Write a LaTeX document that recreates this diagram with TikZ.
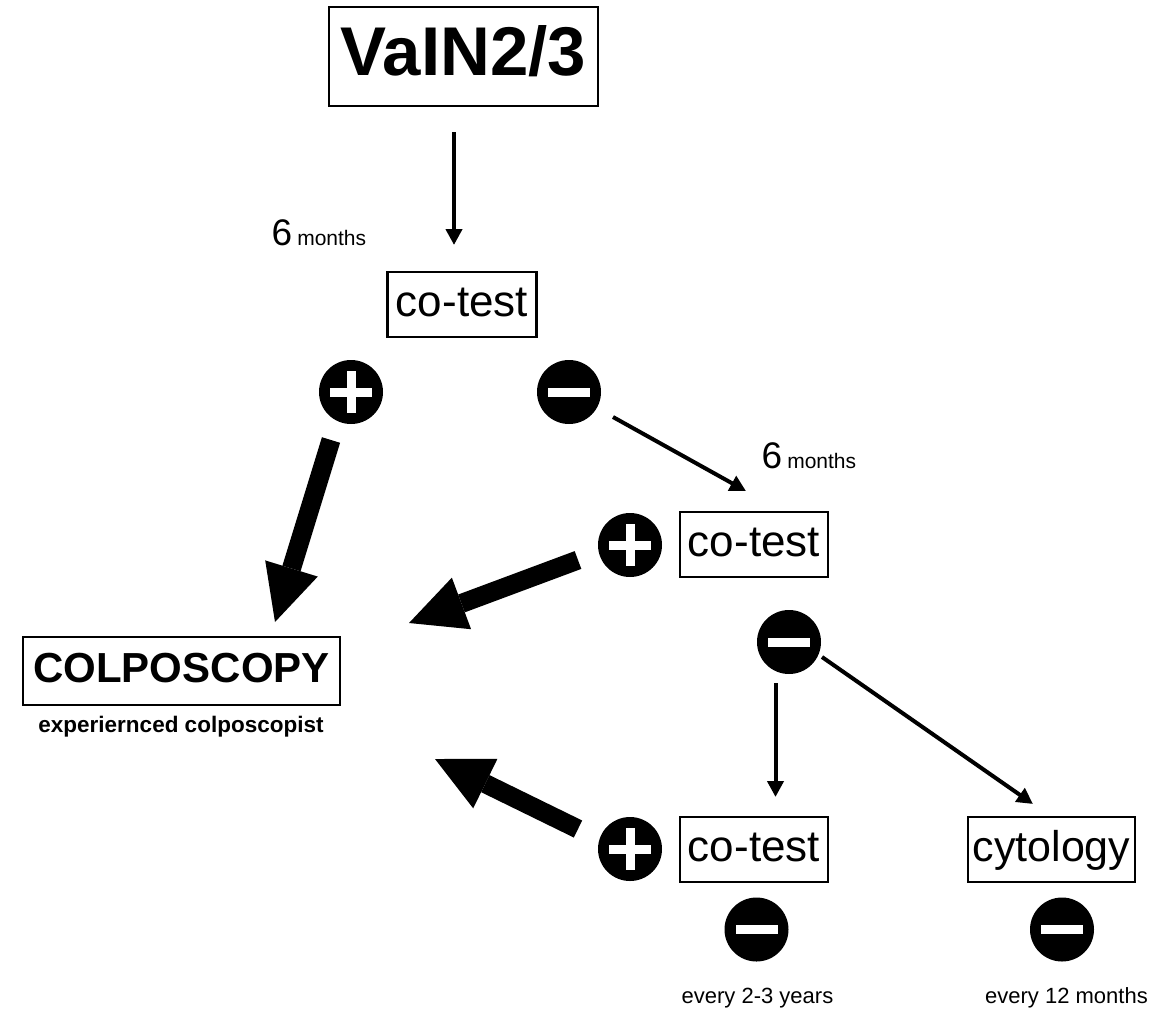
\documentclass[tikz,border=0pt]{standalone}
\usepackage{fontspec}
\setmainfont{Liberation Sans}
\usetikzlibrary{arrows.meta}
\tikzset{
  box/.style={draw, line width=2.5pt, inner sep=0pt},
  sign/.style={circle, fill=black, inner sep=0pt, minimum size=64pt},
  signplus/.style={sign, path picture={
      \fill[white] ([xshift=-21pt,yshift=-4.5pt]path picture bounding box.center) rectangle ++(42pt,9pt);
      \fill[white] ([xshift=-4.5pt,yshift=-21pt]path picture bounding box.center) rectangle ++(9pt,42pt);}},
  signminus/.style={sign, path picture={
      \fill[white] ([xshift=-21pt,yshift=-4.5pt]path picture bounding box.center) rectangle ++(42pt,9pt);}},
  thinarrow/.style={line width=4pt, -{Triangle[length=16pt,width=16pt]}},
  bigarrow/.style={line width=19pt, -{Triangle[length=56pt,width=55pt,line width=0pt]}},
  lbl/.style={inner sep=0pt, anchor=base west},
  note/.style={inner sep=0pt, anchor=base, font=\fontsize{22}{26}\selectfont},
}
\newcommand{\sixmonths}{{\fontsize{37}{40}\selectfont 6}\hspace{5pt}{\fontsize{21}{26}\selectfont months}}
\begin{document}
\begin{tikzpicture}[x=1pt,y=-1pt]
\useasboundingbox[fill=white] (0,0) rectangle (1162,1010);

% boxes
\node[box, minimum width=269pt, minimum height=99pt, text height=49.7pt, text depth=12.4pt, font=\fontsize{69}{80}\selectfont\bfseries] (vain) at (463.5,56.5) {VaIN2/3};
\node[box, minimum width=149pt, minimum height=65pt, text height=31.7pt, text depth=7.9pt, font=\fontsize{44}{50}\selectfont] (ct1) at (462,304.5) {co-test};
\node[box, minimum width=148pt, minimum height=65pt, text height=31.7pt, text depth=7.9pt, font=\fontsize{44}{50}\selectfont] (ct2) at (754,544.5) {co-test};
\node[box, minimum width=148pt, minimum height=65pt, text height=31.7pt, text depth=7.9pt, font=\fontsize{44}{50}\selectfont] (ct3) at (754,849.5) {co-test};
\node[box, minimum width=167pt, minimum height=65pt, text height=31pt, text depth=7.7pt, font=\fontsize{43}{50}\selectfont] (cyto) at (1051.5,849.5) {cytology};
\node[box, minimum width=317pt, minimum height=68pt, text height=30.2pt, text depth=7.6pt, font=\fontsize{42}{50}\selectfont\bfseries] (colpo) at (181.5,671) {COLPOSCOPY};
\node[inner sep=0pt, anchor=base, font=\fontsize{22.5}{26}\selectfont\bfseries] (exp) at (181,732) {experiernced colposcopist};

% signs
\node[signplus] (p1) at (351,392) {};
\node[signminus] (m1) at (569,392) {};
\node[signplus] (p2) at (630,545) {};
\node[signminus] (m2) at (789,642) {};
\node[signplus] (p3) at (630,849) {};
\node[signminus] (m3) at (756.5,929.5) {};
\node[signminus] (m4) at (1062,929.5) {};

% labels
\node[lbl] (six1) at (271.5,245) {\sixmonths};
\node[lbl] (six2) at (761.5,468) {\sixmonths};
\node[note] (n1) at (757.5,1003) {every 2-3 years};
\node[note] (n2) at (1066.5,1003) {every 12 months};

% arrow end points
\coordinate (a1s) at (454,132);  \coordinate (a1e) at (454,245);
\coordinate (a2s) at (613,417);  \coordinate (a2e) at (746,491);
\coordinate (a3s) at (775.5,683); \coordinate (a3e) at (775.5,797);
\coordinate (a4s) at (822,657);  \coordinate (a4e) at (1033,804);
\coordinate (b1s) at (331,440);  \coordinate (b1e) at (275,622);
\coordinate (b2s) at (578,560);  \coordinate (b2e) at (409,623);
\coordinate (b3s) at (578,829);  \coordinate (b3e) at (435,759);

\draw[thinarrow] (a1s) -- (a1e);
\draw[thinarrow] (a2s) -- (a2e);
\draw[thinarrow] (a3s) -- (a3e);
\draw[thinarrow] (a4s) -- (a4e);
\draw[bigarrow] (b1s) -- (b1e);
\draw[bigarrow] (b2s) -- (b2e);
\draw[bigarrow] (b3s) -- (b3e);
\end{tikzpicture}
\end{document}
